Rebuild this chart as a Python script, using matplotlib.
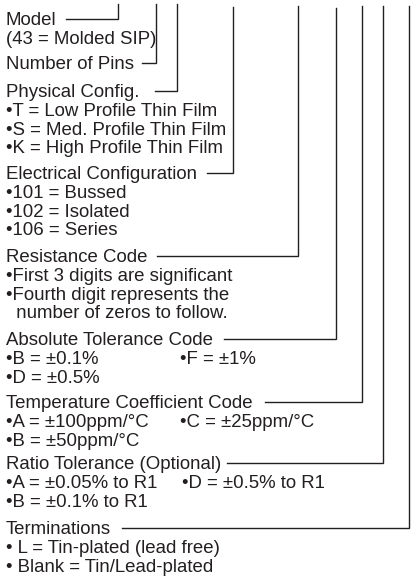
"""
Part-number ordering diagram (molded SIP thin film network).
"""
import matplotlib
matplotlib.use("Agg")
import matplotlib.pyplot as plt

plt.rcParams.update({
    "font.family": ["Liberation Sans", "DejaVu Sans"],
    "font.size": 13.4,
})
INK = "#231f20"

# ---- Field captions and option lines ----
titles = [
    "Model",
    "Number of Pins",
    "Physical Config.",
    "Electrical Configuration",
    "Resistance Code",
    "Absolute Tolerance Code",
    "Temperature Coefficient Code",
    "Ratio Tolerance (Optional)",
    "Terminations",
]
options = [
    ["(43 = Molded SIP)"],
    [],
    ["•T = Low Profile Thin Film",
     "•S = Med. Profile Thin Film",
     "•K = High Profile Thin Film"],
    ["•101 = Bussed", "•102 = Isolated", "•106 = Series"],
    ["•First 3 digits are significant",
     "•Fourth digit represents the",
     "  number of zeros to follow."],
    ["•B = ±0.1%", "•D = ±0.5%"],
    ["•A = ±100ppm/°C", "•B = ±50ppm/°C"],
    ["•A = ±0.05% to R1", "•B = ±0.1% to R1"],
    ["• L = Tin-plated (lead free)", "• Blank = Tin/Lead-plated"],
]
# second-column options (shown on the first option row)
side_options = [None, None, None, None, None,
                "•F = ±1%", "•C = ±25ppm/°C", "•D = ±0.5% to R1", None]

# ---- Layout (pixels, y downward) ----
title_y = [19, 63, 91, 173, 256, 339, 402, 463, 528]
conn_start = [66, 142, 155, 207, 157, 224, 265, 227, 122]
line_x = [118, 156, 177, 233, 298, 336, 362, 383, 409]
line_top = [4, 4, 4, 7, 6, 8, 6, 6, 6]
side_x = [None, None, None, None, None, 180, 180, 182, None]
ROW = 18.8
TEXT_X = 6


def main():
    fig = plt.figure(figsize=(4.17, 5.76), dpi=100)
    ax = fig.add_axes([0, 0, 1, 1])
    ax.set_xlim(0, 417)
    ax.set_ylim(576, 0)
    ax.axis("off")

    for k, title in enumerate(titles):
        y = title_y[k]
        ax.text(TEXT_X, y + 1.5, title, color=INK, va="center", ha="left")

        # connector: horizontal from caption, then up to the part number
        ax.plot([conn_start[k], line_x[k], line_x[k]], [y, y, line_top[k]],
                color=INK, lw=1.0, solid_joinstyle="miter")

        for i, opt in enumerate(options[k]):
            ax.text(TEXT_X, y + 1.5 + ROW * (i + 1), opt, color=INK,
                    va="center", ha="left")
        if side_options[k]:
            ax.text(side_x[k], y + 1.5 + ROW, side_options[k], color=INK,
                    va="center", ha="left")

    fig.savefig("out.png", dpi=100)
    plt.close(fig)


if __name__ == "__main__":
    main()
